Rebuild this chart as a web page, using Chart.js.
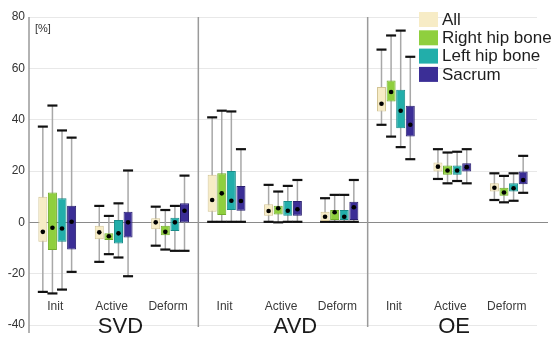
<!DOCTYPE html>
<html>
<head>
<meta charset="utf-8">
<script src="https://cdn.jsdelivr.net/npm/chart.js@4.4.1/dist/chart.umd.min.js"></script>
<style>
  body { margin: 0; background: #fff; }
  #wrap { width: 554px; height: 338px; position: relative; }
</style>
</head>
<body>
<div id="wrap"><canvas id="boxChart"></canvas></div>
<script>
// categories
const phases = ["Init", "Active", "Deform", "Init", "Active", "Deform", "Init", "Active", "Deform"];
const groups = ["SVD", "AVD", "OE"];
const seriesNames = ["All", "Right hip bone", "Left hip bone", "Sacrum"];
const yTicks = [-40, -20, 0, 20, 40, 60, 80];

// [whisker low, q1, dot, q3, whisker high] per phase
const allBox = [
  [-27.1, -7.6, -3.7, 10, 37.3], [-15.4, -6.6, -3.9, -1.3, 6.4], [-9.1, -2.7, 0, 1.6, 6.1],
  [0.2, 4.1, 8.7, 18.5, 40.9], [0.2, 2.6, 4.4, 7, 14.6], [0.2, 0.5, 2.2, 4.1, 9.4],
  [38, 43.2, 46.2, 52.7, 67.3], [16.9, 19.8, 21.7, 23.3, 28.5], [8.7, 12, 13.5, 15.2, 19.1]
];
const rightHip = [
  [-27.7, -10.8, -2.1, 11.6, 45.5], [-12.4, -6.9, -5.4, -4.3, 2.5], [-10.6, -5, -3.7, -1.3, 4.8],
  [0.2, 2.9, 11.3, 19.1, 43.5], [0, 3.1, 5.5, 6.5, 12], [0.2, 0.9, 3.9, 4.8, 10.7],
  [33.4, 47.1, 50.8, 55.3, 72.8], [15.2, 18.5, 20.2, 22.1, 27.2], [7.8, 10.4, 11.6, 13.5, 18.1]
];
const leftHip = [
  [-26.2, -7.6, -2.4, 9.4, 35.8], [-13.7, -8.2, -4.3, 0.9, 7.4], [-11.1, -3.4, 0, 1.8, 6.4],
  [0.2, 4.8, 8.4, 20, 43.2], [0.2, 2.6, 4.5, 8.3, 14.2], [0.2, 0.9, 2.2, 4.8, 10.7],
  [29.3, 36.7, 43.5, 51.7, 74.7], [16.1, 18.5, 20.2, 22.1, 27.5], [8.4, 12, 13.3, 15.2, 19.1]
];
const sacrum = [
  [-19.3, -10.6, 0.2, 6.5, 33], [-21, -5.9, 0, 4.1, 20.2], [-11.1, -0.1, 4.5, 7.4, 18.2],
  [0.2, 4.5, 8.3, 14.2, 28.5], [0.2, 2.6, 5.1, 8.3, 16.5], [0.2, 0.9, 5.9, 8, 16.5],
  [24.6, 33.4, 38, 45.4, 64.5], [15.2, 19.8, 21.5, 23, 28.5], [11.5, 14.8, 16.5, 19.8, 25.9]
];

const boxData = [allBox, rightHip, leftHip, sacrum];
const fills = ["#f7ecc6", "#8fcf3e", "#22aeaa", "#3b2e96"];
const edges = ["#d3c596", "#72ad2c", "#188c89", "#2a2070"];

const FONT = "'Liberation Sans', Arial, sans-serif";

// whiskers, caps, dots, separators, labels and legend
const boxExtras = {
  id: "boxExtras",
  beforeDatasetsDraw(chart) {
    const { ctx, chartArea: a, scales: { x, y } } = chart;
    ctx.save();
    // zero line runs a bit past the plot
    ctx.strokeStyle = "#8a8a8a";
    ctx.lineWidth = 1;
    const y0 = Math.round(y.getPixelForValue(0)) + 0.5;
    ctx.beginPath(); ctx.moveTo(a.left, y0); ctx.lineTo(548, y0); ctx.stroke();
    // group separators
    ctx.strokeStyle = "#9a9a9a";
    ctx.lineWidth = 1.5;
    const cw = (a.right - a.left) / phases.length;
    [3, 6].forEach(i => {
      const sx = a.left + i * cw;
      ctx.beginPath(); ctx.moveTo(sx, a.top); ctx.lineTo(sx, a.bottom + 2); ctx.stroke();
    });
    ctx.beginPath(); ctx.moveTo(a.left, a.top); ctx.lineTo(a.left, a.bottom + 8); ctx.stroke();
    // whiskers
    boxData.forEach((rows, d) => {
      chart.getDatasetMeta(d).data.forEach((bar, j) => {
        const r = rows[j];
        const lo = y.getPixelForValue(r[0]), hi = y.getPixelForValue(r[4]);
        ctx.strokeStyle = "#a8a8a8";
        ctx.lineWidth = 1.5;
        ctx.beginPath(); ctx.moveTo(bar.x, lo); ctx.lineTo(bar.x, hi); ctx.stroke();
        ctx.strokeStyle = "#111";
        ctx.lineWidth = 2.2;
        const hw = bar.width / 2 + 0.5;
        [lo, hi].forEach(py => {
          ctx.beginPath(); ctx.moveTo(bar.x - hw, py); ctx.lineTo(bar.x + hw, py); ctx.stroke();
        });
      });
    });
    ctx.restore();
  },
  afterDatasetsDraw(chart) {
    const { ctx, scales: { y } } = chart;
    ctx.save();
    ctx.fillStyle = "#000";
    boxData.forEach((rows, d) => {
      chart.getDatasetMeta(d).data.forEach((bar, j) => {
        ctx.beginPath();
        ctx.arc(bar.x, y.getPixelForValue(rows[j][2]), 2.3, 0, Math.PI * 2);
        ctx.fill();
      });
    });
    ctx.restore();
  },
  afterDraw(chart) {
    const { ctx, chartArea: a } = chart;
    const cw = (a.right - a.left) / phases.length;
    ctx.save();
    ctx.textBaseline = "middle";
    // phase labels inside the plot
    ctx.fillStyle = "#3a3a3a";
    ctx.font = "12px " + FONT;
    ctx.textAlign = "center";
    phases.forEach((p, i) => ctx.fillText(p, a.left + (i + 0.5) * cw - 2, 307));
    // group labels
    ctx.fillStyle = "#1a1a1a";
    ctx.font = "22px " + FONT;
    const gPos = [1.12, 4.22, 7.03];
    groups.forEach((g, i) => ctx.fillText(g, a.left + (gPos[i] + 0.5) * cw, 327));
    // unit
    ctx.font = "11px " + FONT;
    ctx.fillStyle = "#333";
    ctx.textAlign = "left";
    ctx.fillText("[%]", 35, 29);
    // legend
    ctx.font = "17px " + FONT;
    seriesNames.forEach((s, i) => {
      const ly = 12 + i * 18.3;
      ctx.fillStyle = fills[i];
      ctx.fillRect(419, ly, 19, 15);
      ctx.fillStyle = "#1e1e1e";
      ctx.fillText(s, 442, ly + 8);
    });
    ctx.restore();
  }
};

new Chart(document.getElementById("boxChart"), {
  type: "bar",
  data: {
    labels: phases,
    datasets: seriesNames.map((name, d) => ({
      label: name,
      data: boxData[d].map(r => [r[1], r[3]]),
      backgroundColor: fills[d],
      borderColor: edges[d],
      borderWidth: 1,
      borderSkipped: false,
      categoryPercentage: 0.68,
      barPercentage: 0.94
    }))
  },
  options: {
    responsive: true,
    maintainAspectRatio: false,
    animation: false,
    layout: { padding: { top: 17, bottom: 13, right: 17, left: 0 } },
    plugins: { legend: { display: false }, tooltip: { enabled: false } },
    scales: {
      x: { display: false },
      y: {
        min: -40,
        max: 80,
        afterBuildTicks(scale) { scale.ticks = yTicks.map(v => ({ value: v })); },
        afterFit(scale) { scale.width = 29; },
        border: { display: false },
        grid: {
          drawTicks: false,
          color: ctx => ctx.tick && ctx.tick.value === 0 ? "rgba(0,0,0,0)" : "#e8e8e8",
          lineWidth: 1
        },
        ticks: {
          padding: 4,
          color: "#333",
          font: { family: FONT, size: 12 }
        }
      }
    }
  },
  plugins: [boxExtras]
});
</script>
</body>
</html>
